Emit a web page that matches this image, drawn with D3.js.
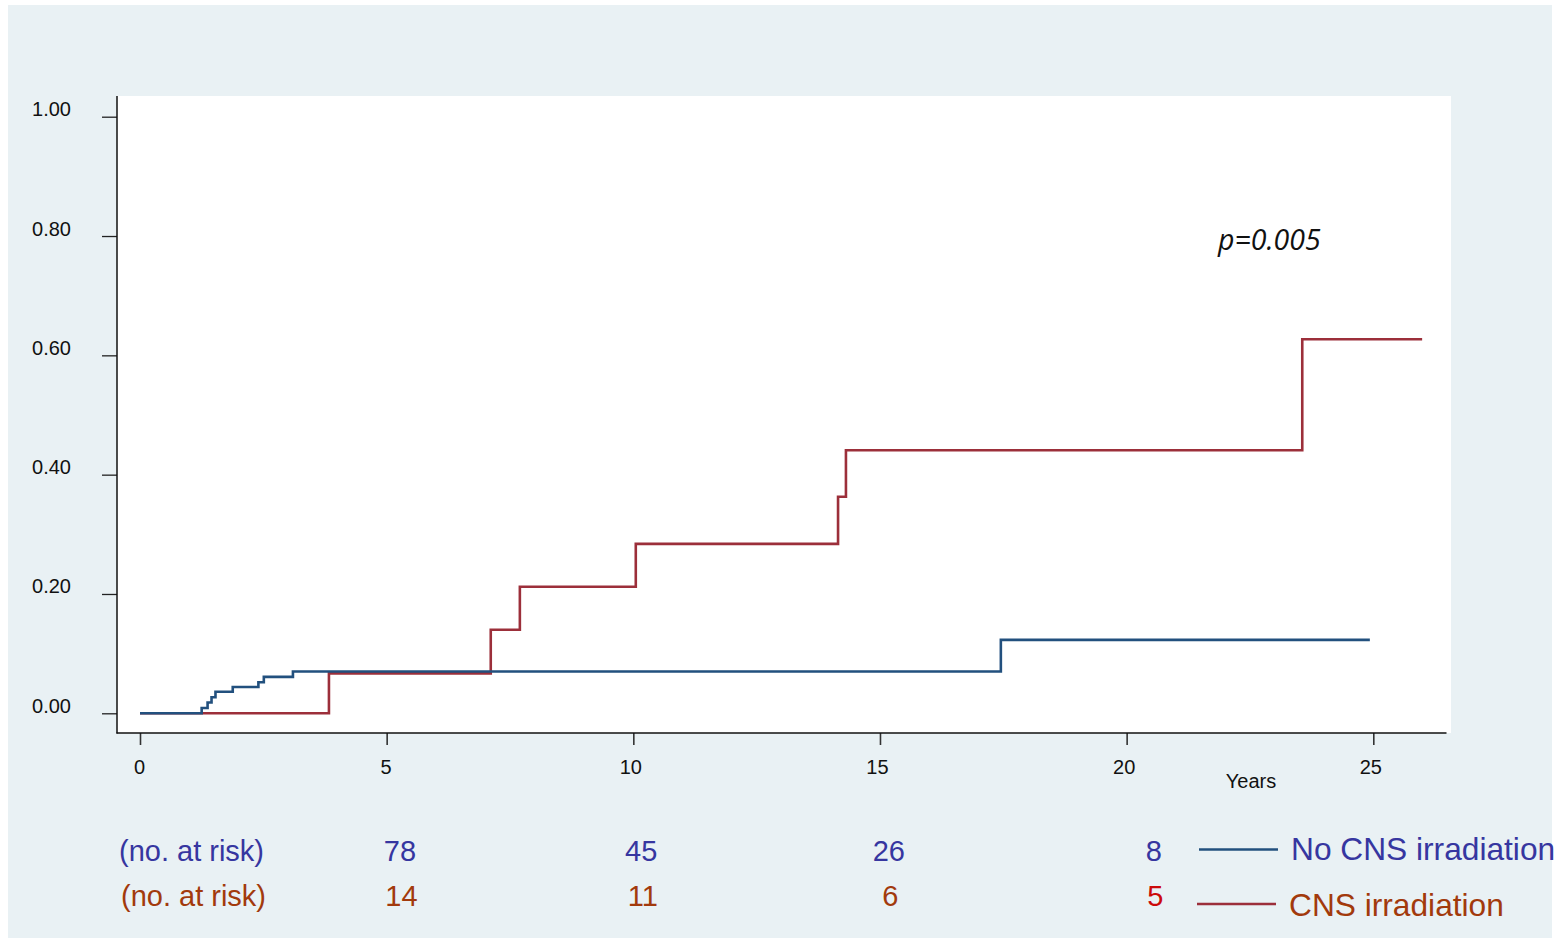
<!DOCTYPE html>
<html>
<head>
<meta charset="utf-8">
<script src="https://cdn.jsdelivr.net/npm/d3@7"></script>
<style>
  html, body { margin: 0; padding: 0; background: #fff; }
  svg { display: block; font-family: "Liberation Sans", Arial, sans-serif; }
</style>
</head>
<body>
<svg id="chart" width="1560" height="940"></svg>
<script>
// ---- data ----
const noIrrTime  = [0, 1.25, 1.37, 1.45, 1.53, 1.88, 2.40, 2.51, 3.10, 17.45, 24.93];
const noIrrValue = [0, 0.009, 0.018, 0.027, 0.036, 0.044, 0.052, 0.061, 0.070, 0.123, 0.123];
const irrTime    = [0, 3.83, 7.11, 7.70, 10.05, 14.15, 14.31, 23.56, 25.99];
const irrValue   = [0, 0.067, 0.140, 0.212, 0.284, 0.363, 0.441, 0.627, 0.627];

const xTicks = [0, 5, 10, 15, 20, 25];
const yTicks = [0, 0.2, 0.4, 0.6, 0.8, 1.0];

const riskYears   = [5.27, 10.16, 15.18, 20.55];
const riskNoIrr   = [78, 45, 26, 8];
const riskIrr     = [14, 11, 6, 5];
const seriesNames = ['No CNS irradiation', 'CNS irradiation'];
const pText = 'p=0.005';

// ---- layout ----
const svg = d3.select('#chart');
const blueLine = '#22507e', redLine = '#9c2f3a';
const blueText = '#3636a0', brownText = '#a23a0c';

const x = d3.scaleLinear().domain([0, 25]).range([140, 1373.3]);
const y = d3.scaleLinear().domain([0, 1]).range([713.3, 116.7]);

// outer background and plot region
svg.append('rect').attr('x', 8).attr('y', 5).attr('width', 1544).attr('height', 933).attr('fill', '#e9f1f4');
svg.append('rect').attr('x', 117).attr('y', 96).attr('width', 1334).attr('height', 637).attr('fill', '#fff');

// axes
const yAxis = svg.append('g').attr('transform', 'translate(117,0)')
  .call(d3.axisLeft(y).tickValues(yTicks).tickSize(15).tickFormat(d3.format('.2f')));
yAxis.select('.domain').remove();
yAxis.selectAll('line').attr('stroke', '#222').attr('stroke-width', 1.3);
yAxis.selectAll('text').attr('x', -46).attr('dy', -1)
  .attr('font-size', 20).attr('fill', '#111').attr('font-family', '"Liberation Sans", Arial, sans-serif');

const xAxis = svg.append('g').attr('transform', 'translate(0,733)')
  .call(d3.axisBottom(x).tickValues(xTicks).tickSize(12));
xAxis.select('.domain').remove();
xAxis.selectAll('line').attr('stroke', '#333').attr('stroke-width', 1.6);
xAxis.selectAll('text').attr('y', 41).attr('dy', 0).attr('dx', d => d >= 10 ? -3 : -1)
  .attr('font-size', 20).attr('fill', '#111').attr('font-family', '"Liberation Sans", Arial, sans-serif');

svg.append('line').attr('x1', 117).attr('x2', 117).attr('y1', 96).attr('y2', 733.5)
  .attr('stroke', '#111').attr('stroke-width', 1.5);
svg.append('line').attr('x1', 116.5).attr('x2', 1446.5).attr('y1', 733).attr('y2', 733)
  .attr('stroke', '#111').attr('stroke-width', 1.5);

svg.append('text').attr('x', 1251).attr('y', 788).attr('text-anchor', 'middle')
  .attr('font-size', 20).attr('fill', '#111').text('Years');

// step curves
const step = d3.line().x(d => x(d[0])).y(d => y(d[1])).curve(d3.curveStepAfter);
const noIrr = d3.zip(noIrrTime, noIrrValue);
const irr = d3.zip(irrTime, irrValue);

svg.append('path').attr('d', step(irr)).attr('fill', 'none')
  .attr('stroke', redLine).attr('stroke-width', 2.6);
svg.append('path').attr('d', step(noIrr)).attr('fill', 'none')
  .attr('stroke', blueLine).attr('stroke-width', 2.6);

// p value
svg.append('text').attr('x', 1218).attr('y', 250)
  .attr('font-family', '"Open Sans", sans-serif').attr('font-style', 'italic')
  .attr('font-size', 28.5).attr('fill', '#111').text(pText);

// numbers at risk
const riskRows = [
  { vals: riskNoIrr, base: 861, color: blueText, lx: 119 },
  { vals: riskIrr, base: 906, color: brownText, lx: 121 }
];
riskRows.forEach((row, r) => {
  svg.append('text').attr('x', row.lx).attr('y', row.base)
    .attr('font-size', 29).attr('fill', row.color).text('(no. at risk)');
  svg.selectAll(null).data(row.vals).enter().append('text')
    .attr('x', (d, i) => x(riskYears[i]) + (r === 1 ? 1.5 : 0))
    .attr('y', row.base).attr('text-anchor', 'middle')
    .attr('font-size', 29)
    .attr('fill', (d, i) => (r === 1 && i === 3) ? '#cc0a0a' : row.color)
    .text(d => d);
});

// legend
const legend = [
  { name: seriesNames[0], line: blueLine, text: blueText, ly: 849.5, x1: 1199, base: 860 },
  { name: seriesNames[1], line: redLine, text: brownText, ly: 904, x1: 1197, base: 916 }
];
legend.forEach(l => {
  svg.append('line').attr('x1', l.x1).attr('x2', l.x1 + 79).attr('y1', l.ly).attr('y2', l.ly)
    .attr('stroke', l.line).attr('stroke-width', 2.6);
  svg.append('text').attr('x', l.x1 + 92).attr('y', l.base)
    .attr('font-size', 31.7).attr('fill', l.text).text(l.name);
});
</script>
</body>
</html>
